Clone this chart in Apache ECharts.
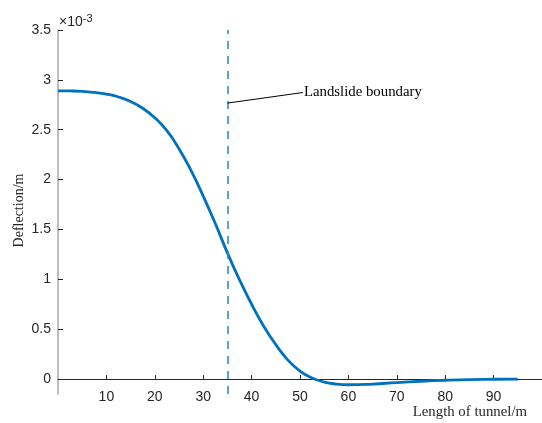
<!DOCTYPE html>
<html>
<head>
<meta charset="utf-8">
<script src="https://cdn.jsdelivr.net/npm/echarts@6/dist/echarts.min.js"></script>
<style>html,body{margin:0;padding:0;background:#fff}#c{width:542px;height:423px}</style>
</head>
<body>
<div id="c"></div>
<script>
// Data (deflection in units of 1e-3 m)
const tunnelLength = [0,2.5,5,7.5,10,12.5,15,17.5,20,22.5,25,27.5,30,32.5,35,37.5,40,42.5,45,47.5,50,52.5,55,57.5,60,65,70,75,80,85,90,95];
const deflection = [2.89,2.889,2.885,2.874,2.857,2.828,2.783,2.715,2.62,2.49,2.31,2.09,1.835,1.56,1.265,0.995,0.75,0.53,0.345,0.19,0.08,0.01,-0.03,-0.05,-0.057,-0.05,-0.035,-0.022,-0.012,-0.005,-0.002,0];
const xTicks = [10,20,30,40,50,60,70,80,90];
const yTicks = [0,0.5,1,1.5,2,2.5,3,3.5];
const boundaryX = 35;
const boundaryRange = [-0.15, 3.5];
const annotationFrom = [35, 2.767];
const annotationTo = [50.6, 2.873];
const annotationText = 'Landslide boundary';

const chart = echarts.init(document.getElementById('c'), null, {renderer:'canvas'});
const tickFont = {fontFamily:'Liberation Sans', fontSize:14, color:'#262626'};
chart.setOption({
  animation:false,
  grid:{left:58, right:0, top:30, bottom:29, containLabel:false},
  xAxis:{
    type:'value', min:0, max:100,
    axisLine:{show:true, onZero:true, lineStyle:{color:'#262626', width:1}},
    axisTick:{show:true, inside:true, length:4, customValues:xTicks, lineStyle:{color:'#262626'}},
    axisLabel:Object.assign({show:true, margin:-4, customValues:xTicks}, tickFont),
    splitLine:{show:false}
  },
  yAxis:{
    type:'value', min:-0.15, max:3.5,
    axisLine:{show:true, lineStyle:{color:'#a6a6a6', width:1.5}},
    axisTick:{show:true, inside:true, length:5, customValues:yTicks, lineStyle:{color:'#262626'}},
    axisLabel:Object.assign({show:true, margin:7, customValues:yTicks}, tickFont),
    splitLine:{show:false}
  },
  series:[{
    type:'line',
    data:tunnelLength.map((x,i)=>[x,deflection[i]]),
    smooth:0.5,
    showSymbol:false,
    lineStyle:{color:'#0072BD', width:2.8},
    markLine:{
      silent:true, symbol:'none', animation:false,
      data:[
        [{coord:[boundaryX,boundaryRange[0]], lineStyle:{color:'#2a84c6', width:1.5, type:[8,7]}, label:{show:false}},
         {coord:[boundaryX,boundaryRange[1]]}],
        [{coord:annotationFrom, lineStyle:{color:'#000', width:1, type:'solid'},
          label:{show:true, position:'end', formatter:annotationText, distance:1,
                 fontFamily:'Liberation Serif', fontSize:14.8, color:'#000'}},
         {coord:annotationTo}]
      ]
    }
  }],
  graphic:[
    {type:'text', left:59, top:13, style:{
      text:'×10{s|-3}', fontFamily:'Liberation Sans', fontSize:14, fill:'#262626',
      rich:{s:{fontSize:11, verticalAlign:'top', padding:[0,0,7,0], fontFamily:'Liberation Sans', fill:'#262626'}}}},
    {type:'text', x:19, y:210.5, rotation:Math.PI/2, style:{
      text:'Deflection/m', fontFamily:'Liberation Serif', fontSize:14, fill:'#262626', align:'center', verticalAlign:'middle'}},
    {type:'text', x:527, y:412, style:{
      text:'Length of tunnel/m', fontFamily:'Liberation Serif', fontSize:14.8, fill:'#262626', align:'right', verticalAlign:'middle'}}
  ]
});
</script>
</body>
</html>
